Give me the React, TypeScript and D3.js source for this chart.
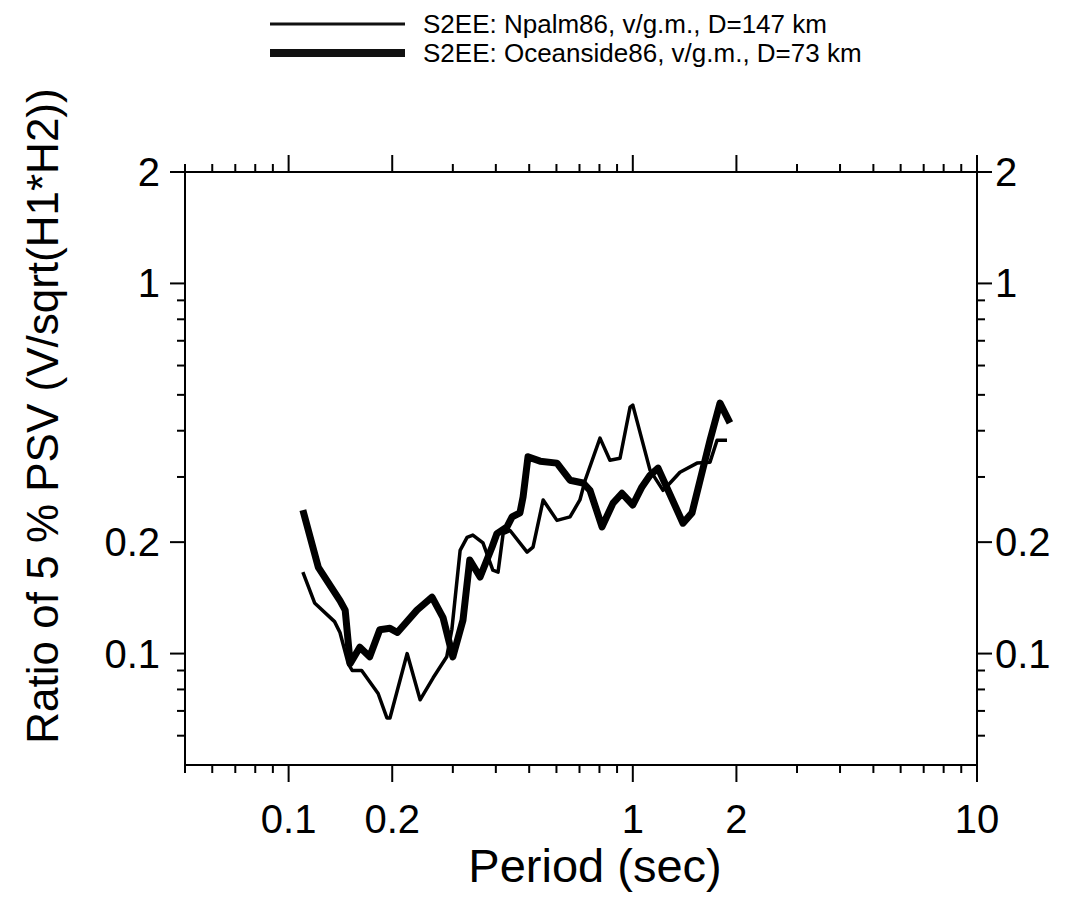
import React from "react";
import * as d3 from "d3";

const seriesNames = [
  "S2EE: Npalm86, v/g.m., D=147 km",
  "S2EE: Oceanside86, v/g.m., D=73 km",
];

const npalmPeriod = [0.110, 0.119, 0.136, 0.141, 0.149, 0.153, 0.163, 0.182, 0.193, 0.197, 0.221, 0.241, 0.263, 0.288, 0.298, 0.315, 0.330, 0.343, 0.367, 0.392, 0.406, 0.420, 0.440, 0.493, 0.513, 0.549, 0.602, 0.657, 0.702, 0.727, 0.803, 0.858, 0.918, 0.982, 1.00, 1.122, 1.224, 1.283, 1.371, 1.537, 1.676, 1.757, 1.878];
const npalmRatio = [0.166, 0.137, 0.122, 0.114, 0.094, 0.090, 0.090, 0.078, 0.067, 0.067, 0.100, 0.075, 0.086, 0.098, 0.116, 0.190, 0.206, 0.209, 0.199, 0.168, 0.166, 0.211, 0.215, 0.188, 0.194, 0.260, 0.229, 0.234, 0.260, 0.294, 0.382, 0.333, 0.337, 0.463, 0.469, 0.313, 0.276, 0.289, 0.309, 0.327, 0.329, 0.377, 0.377];

const oceanPeriod = [0.110, 0.122, 0.141, 0.146, 0.151, 0.161, 0.172, 0.184, 0.197, 0.207, 0.236, 0.261, 0.281, 0.300, 0.321, 0.336, 0.360, 0.390, 0.403, 0.431, 0.446, 0.470, 0.480, 0.496, 0.538, 0.602, 0.657, 0.717, 0.751, 0.814, 0.876, 0.930, 1.00, 1.063, 1.122, 1.184, 1.399, 1.486, 1.676, 1.792, 1.915];
const oceanRatio = [0.244, 0.171, 0.139, 0.131, 0.094, 0.104, 0.098, 0.116, 0.117, 0.114, 0.131, 0.142, 0.125, 0.098, 0.123, 0.179, 0.161, 0.194, 0.211, 0.220, 0.234, 0.240, 0.265, 0.340, 0.331, 0.327, 0.294, 0.289, 0.276, 0.220, 0.255, 0.271, 0.252, 0.282, 0.303, 0.317, 0.225, 0.240, 0.377, 0.475, 0.420];

const xMajor = [0.1, 0.2, 1, 2, 10];
const xMajorLabels = ["0.1", "0.2", "1", "2", "10"];
const xMinor = [0.05, 0.06, 0.07, 0.08, 0.09, 0.3, 0.4, 0.5, 0.6, 0.7, 0.8, 0.9, 3, 4, 5, 6, 7, 8, 9];
const yMajor = [0.1, 0.2, 1, 2];
const yMajorLabels = ["0.1", "0.2", "1", "2"];
const yMinor = [0.06, 0.07, 0.08, 0.09, 0.3, 0.4, 0.5, 0.6, 0.7, 0.8, 0.9];

const W = 1070;
const H = 911;
const L = 185, R = 977, T = 172, B = 765;
const FONT = "'Liberation Sans', Arial, Helvetica, sans-serif";

export default function App() {
  const x = d3.scaleLog().domain([0.05, 10]).range([L, R]);
  const y = d3.scaleLog().domain([0.05, 2]).range([B, T]);
  const line = d3
    .line<[number, number]>()
    .x((d) => x(d[0]))
    .y((d) => y(d[1]));
  const npalm = npalmPeriod.map((p, i) => [p, npalmRatio[i]] as [number, number]);
  const ocean = oceanPeriod.map((p, i) => [p, oceanRatio[i]] as [number, number]);

  const majLen = 17, minLen = 8, yMajLen = 15;
  return (
    <svg
      width={W}
      height={H}
      style={{ display: "block", position: "absolute", left: 0, top: 0, background: "#fff" }}
      fontFamily={FONT}
    >
      {/* legend */}
      {seriesNames.map((name, i) => (
        <g key={name}>
          <line x1={270} x2={405} y1={24 + i * 29} y2={24 + i * 29} stroke="#111" strokeWidth={i === 0 ? 3 : 8} />
          <text x={423} y={24 + i * 29 + 9} fontSize={26} fill="#000">{name}</text>
        </g>
      ))}
      {/* frame */}
      <rect x={L} y={T} width={R - L} height={B - T} fill="none" stroke="#000" strokeWidth={2} />
      {/* x ticks */}
      {xMajor.map((v, i) => (
        <g key={"xm" + v}>
          <line x1={x(v)} x2={x(v)} y1={B} y2={B + majLen} stroke="#000" strokeWidth={2} />
          <line x1={x(v)} x2={x(v)} y1={T} y2={T - majLen} stroke="#000" strokeWidth={2} />
          <text x={x(v)} y={833} fontSize={40} textAnchor="middle">{xMajorLabels[i]}</text>
        </g>
      ))}
      {xMinor.map((v) => (
        <g key={"xn" + v}>
          <line x1={x(v)} x2={x(v)} y1={B} y2={B + minLen} stroke="#000" strokeWidth={2} />
          <line x1={x(v)} x2={x(v)} y1={T} y2={T - minLen} stroke="#000" strokeWidth={2} />
        </g>
      ))}
      {/* y ticks */}
      {yMajor.map((v, i) => (
        <g key={"ym" + v}>
          <line x1={L} x2={L - yMajLen} y1={y(v)} y2={y(v)} stroke="#000" strokeWidth={2} />
          <line x1={R} x2={R + yMajLen} y1={y(v)} y2={y(v)} stroke="#000" strokeWidth={2} />
          <text x={160} y={y(v) + 14} fontSize={40} textAnchor="end">{yMajorLabels[i]}</text>
          <text x={995} y={y(v) + 14} fontSize={40} textAnchor="start">{yMajorLabels[i]}</text>
        </g>
      ))}
      {yMinor.map((v) => (
        <g key={"yn" + v}>
          <line x1={L} x2={L - minLen} y1={y(v)} y2={y(v)} stroke="#000" strokeWidth={2} />
          <line x1={R} x2={R + minLen} y1={y(v)} y2={y(v)} stroke="#000" strokeWidth={2} />
        </g>
      ))}
      {/* axis titles */}
      <text x={595} y={882} fontSize={47} textAnchor="middle">Period (sec)</text>
      <text transform={`translate(58,416) rotate(-90)`} fontSize={44} textAnchor="middle">
        Ratio of 5 % PSV (V/sqrt(H1*H2))
      </text>
      {/* curves */}
      <path d={line(npalm) ?? ""} fill="none" stroke="#000" strokeWidth={3.5} strokeLinejoin="round" />
      <path d={line(ocean) ?? ""} fill="none" stroke="#000" strokeWidth={7} strokeLinejoin="round" />
    </svg>
  );
}
